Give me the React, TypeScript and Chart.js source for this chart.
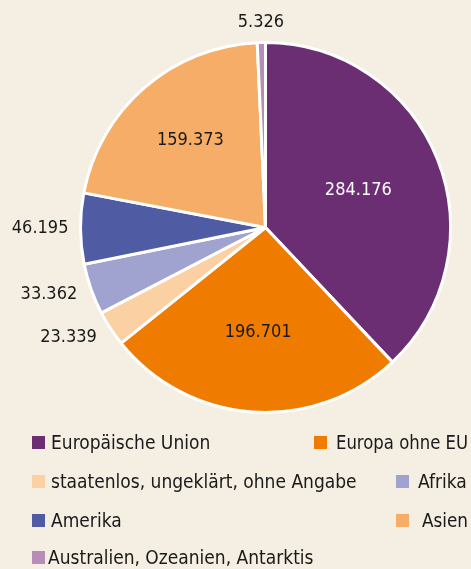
import React, { useEffect, useRef } from "react";
import { Chart, registerables } from "chart.js";

Chart.register(...registerables);

const categories: string[] = [
  "Europäische Union",
  "Europa ohne EU",
  "staatenlos, ungeklärt, ohne Angabe",
  "Afrika",
  "Amerika",
  "Asien",
  "Australien, Ozeanien, Antarktis",
];
const values: number[] = [284176, 196701, 23339, 33362, 46195, 159373, 5326];
const colors: string[] = ["#6c2e73", "#ef7c00", "#fbd0a2", "#a0a2cf", "#4f5ba2", "#f6ad67", "#b58db7"];

const BG = "#f4eee3";
const FONT_NUM = '18px "DejaVu Sans Condensed", "DejaVu Sans", sans-serif';
const FONT_LEG = '19px "DejaVu Sans Condensed", "DejaVu Sans", sans-serif';

// label placement: fraction of radius for inside labels (null = outside)
const insideFrac: (number | null)[] = [0.54, 0.57, null, null, null, 0.62, null];
const labelColor: string[] = ["#ffffff", "#1a1a1a", "#1a1a1a", "#1a1a1a", "#1a1a1a", "#1a1a1a", "#1a1a1a"];

// legend layout (square x, square y, text x)
const legendLayout = [
  { sx: 32, sy: 436, tx: 51 },
  { sx: 314, sy: 436, tx: 336 },
  { sx: 32, sy: 475, tx: 51 },
  { sx: 396, sy: 475, tx: 418 },
  { sx: 32, sy: 514, tx: 51 },
  { sx: 396, sy: 514, tx: 422 },
  { sx: 32, sy: 551, tx: 48 },
];

const fmt = (v: number) => String(v).replace(/\B(?=(\d{3})+(?!\d))/g, ".");

const labelPlugin = {
  id: "sliceLabels",
  afterDatasetsDraw(chart: any) {
    const ctx = chart.ctx;
    const meta = chart.getDatasetMeta(0);
    ctx.save();
    ctx.font = FONT_NUM;
    meta.data.forEach((arc: any, i: number) => {
      const p = arc.getProps(["x", "y", "startAngle", "endAngle", "outerRadius"], true);
      const mid = (p.startAngle + p.endAngle) / 2;
      const c = Math.cos(mid);
      const s = Math.sin(mid);
      const text = fmt(values[i]);
      ctx.fillStyle = labelColor[i];
      ctx.textBaseline = "middle";
      const f = insideFrac[i];
      if (f !== null) {
        ctx.textAlign = "center";
        ctx.fillText(text, p.x + c * p.outerRadius * f, p.y + s * p.outerRadius * f);
      } else {
        const r = p.outerRadius + 12 + Math.abs(s) * 8;
        ctx.textAlign = c < -0.3 ? "right" : c > 0.3 ? "left" : "center";
        ctx.fillText(text, p.x + c * r, p.y + s * r);
      }
    });
    ctx.restore();
  },
};

const legendPlugin = {
  id: "customLegend",
  afterDraw(chart: any) {
    const ctx = chart.ctx;
    ctx.save();
    ctx.font = FONT_LEG;
    ctx.textBaseline = "alphabetic";
    ctx.textAlign = "left";
    categories.forEach((name, i) => {
      const l = legendLayout[i];
      ctx.fillStyle = colors[i];
      ctx.fillRect(l.sx, l.sy, 13, 13);
      ctx.fillStyle = "#1a1a1a";
      ctx.fillText(name, l.tx, l.sy + 13, chart.width - l.tx - 3);
    });
    ctx.restore();
  },
};

const bgPlugin = {
  id: "bg",
  beforeDraw(chart: any) {
    const ctx = chart.ctx;
    ctx.save();
    ctx.fillStyle = BG;
    ctx.fillRect(0, 0, chart.width, chart.height);
    ctx.restore();
  },
};

export default function App() {
  const ref = useRef<HTMLCanvasElement | null>(null);
  useEffect(() => {
    document.body.style.margin = "0";
    document.body.style.background = BG;
    if (!ref.current) return;
    const chart = new Chart(ref.current, {
      type: "pie",
      data: {
        labels: categories,
        datasets: [
          {
            data: values,
            backgroundColor: colors,
            borderColor: "#ffffff",
            borderWidth: 3,
          },
        ],
      },
      options: {
        animation: false,
        responsive: false,
        maintainAspectRatio: false,
        devicePixelRatio: 1,
        layout: { padding: { left: 79, right: 19, top: 41, bottom: 155 } },
        plugins: {
          legend: { display: false },
          tooltip: { enabled: false },
        },
      },
      plugins: [bgPlugin, labelPlugin, legendPlugin],
    });
    return () => chart.destroy();
  }, []);
  return (
    <div style={{ position: "absolute", left: 0, top: 0, width: 471, height: 569, background: BG }}>
      <canvas ref={ref} width={471} height={569} style={{ width: 471, height: 569, display: "block" }} />
    </div>
  );
}
